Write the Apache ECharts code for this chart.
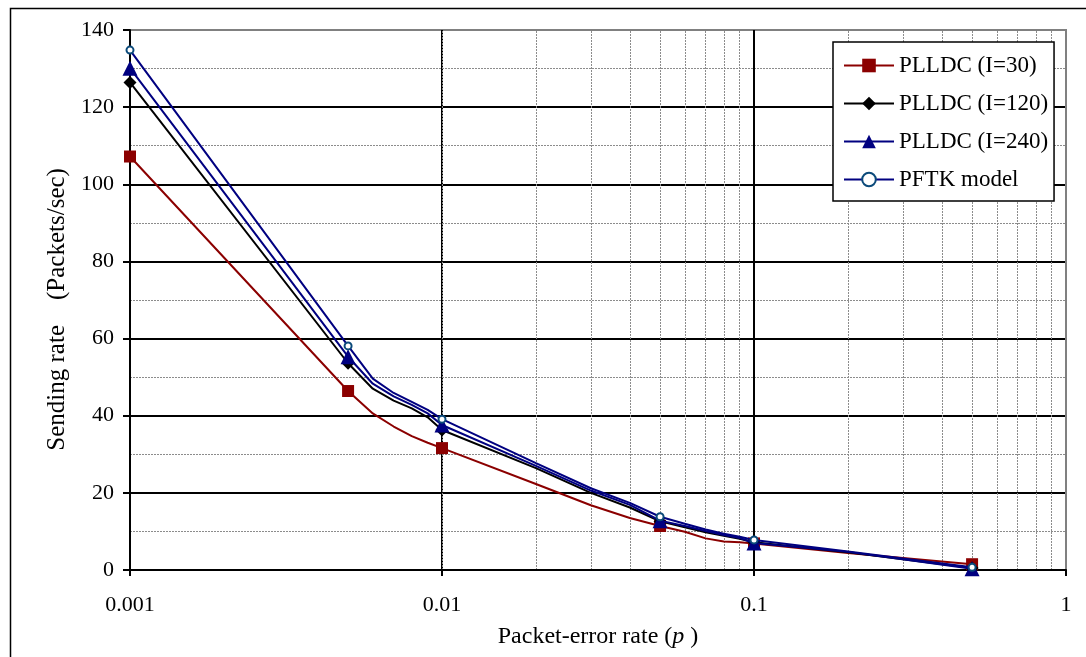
<!DOCTYPE html>
<html>
<head>
<meta charset="utf-8">
<script src="https://cdn.jsdelivr.net/npm/echarts@6/dist/echarts.min.js"></script>
<style>
html,body{margin:0;padding:0;background:#fff;}
#chart{width:1086px;height:657px;}
</style>
</head>
<body>
<div id="chart"></div>
<script>
// Packet-error rate sample points
const pValues = [0.001, 0.005, 0.006, 0.007, 0.008, 0.009, 0.01, 0.02, 0.03, 0.04, 0.05, 0.06, 0.07, 0.08, 0.09, 0.1, 0.2, 0.5];
// points that carry a visible marker
const markerP = [0.001, 0.005, 0.01, 0.05, 0.1, 0.5];

const seriesNames = ['PLLDC (I=30)', 'PLLDC (I=120)', 'PLLDC (I=240)', 'PFTK model'];
const rateI30  = [107.2, 46.4, 40.6, 37.2, 34.7, 33.0, 31.6, 22.3, 16.8, 13.5, 11.4, 9.9, 8.2, 7.4, 7.2, 6.9, 4.4, 1.5];
const rateI120 = [126.4, 53.6, 47.0, 43.9, 41.9, 39.6, 36.3, 26.4, 20.0, 16.2, 12.6, 11.1, 9.8, 8.9, 8.1, 7.2, 4.6, 0.5];
const rateI240 = [130.1, 55.3, 48.3, 45.0, 42.8, 40.6, 37.6, 27.0, 20.6, 16.9, 12.8, 11.4, 10.1, 9.1, 8.3, 7.0, 4.7, 0.3];
const ratePFTK = [134.8, 58.1, 49.6, 45.9, 43.6, 41.5, 39.1, 27.7, 21.2, 17.4, 13.8, 12.0, 10.5, 9.4, 8.6, 7.8, 4.8, 0.7];

const yTicks = [0, 20, 40, 60, 80, 100, 120, 140];
const xTickLabels = ['0.001', '0.01', '0.1', '1'];
const minorXGrid = [0.002,0.003,0.004,0.005,0.006,0.007,0.008,0.009,
                    0.02,0.03,0.04,0.05,0.06,0.07,0.08,0.09,
                    0.2,0.3,0.4,0.5,0.6,0.7,0.8,0.9];

const FONT = '"Liberation Serif", "Times New Roman", serif';

function pairs(ys){ return pValues.map((p,i)=>[p, ys[i]]); }
function sizeFn(s){
  return function(val){ return markerP.some(m => Math.abs(m - val[0]) < 1e-9) ? s : 0; };
}

const chart = echarts.init(document.getElementById('chart'), null, {renderer:'canvas'});

const option = {
  backgroundColor: '#fff',
  animation: false,
  textStyle: { fontFamily: FONT },
  graphic: [{
    type: 'rect', left: 8, top: 6, shape: { width: 1090, height: 660 },
    style: { fill: 'none', stroke: '#000', lineWidth: 1.5 }, silent: true, z: -10
  }],
  grid: {
    left: 130, right: 20, top: 30, bottom: 87,
    show: true, borderColor: '#808080', borderWidth: 2, backgroundColor: 'transparent'
  },
  legend: {
    data: seriesNames,
    orient: 'vertical',
    left: 833, top: 42, z: 20,
    padding: [12, 6, 10, 10],
    itemWidth: 50, itemHeight: 17, itemGap: 15,
    backgroundColor: '#fff',
    borderColor: '#000', borderWidth: 1.5,
    textStyle: { fontFamily: FONT, fontSize: 23, color: '#000' }
  },
  xAxis: {
    type: 'log', logBase: 10, min: 0.001, max: 1,
    name: 'Packet-error rate ({i|p} )',
    nameLocation: 'middle', nameGap: 55,
    nameTextStyle: {
      fontFamily: FONT, fontSize: 24, color: '#000',
      rich: { i: { fontFamily: FONT, fontSize: 24, fontStyle: 'italic', color: '#000' } }
    },
    axisLine: { show: true, onZero: false, lineStyle: { color: '#000', width: 2 } },
    axisTick: { show: true, length: 6, lineStyle: { color: '#000', width: 2 } },
    axisLabel: {
      fontFamily: FONT, fontSize: 22, color: '#000', margin: 24,
      formatter: function(v){
        const s = String(Number(v.toPrecision(6)));
        return xTickLabels.indexOf(s) >= 0 ? s : '';
      }
    },
    splitLine: { show: true, lineStyle: { color: ['#000','#000','#000','#808080'], width: 2 } },
    minorTick: { show: false },
    minorSplitLine: { show: false }
  },
  yAxis: {
    type: 'value', min: 0, max: 140, interval: 20,
    name: 'Sending rate    (Packets/sec)   ',
    nameLocation: 'middle', nameGap: 50,
    nameTextStyle: { fontFamily: FONT, fontSize: 25, color: '#000' },
    axisLine: { show: true, onZero: false, lineStyle: { color: '#000', width: 2 } },
    axisTick: { show: true, length: 7, lineStyle: { color: '#000', width: 2 } },
    axisLabel: {
      fontFamily: FONT, fontSize: 22, color: '#000', margin: 16,
      formatter: function(v){ return yTicks.indexOf(v) >= 0 ? String(v) : ''; }
    },
    splitLine: { show: true, lineStyle: { color: ['#000','#000','#000','#000','#000','#000','#000','#808080'], width: 2 } },
    minorTick: { show: false, splitNumber: 2 },
    minorSplitLine: { show: true, lineStyle: { color: '#8c8c8c', width: 1, type: [2, 1] } }
  },
  series: [
    {
      name: '_minorgrid', type: 'line', data: [], silent: true, z: 0,
      markLine: {
        silent: true, symbol: ['none','none'], label: { show: false },
        lineStyle: { color: '#8c8c8c', width: 1, type: [2, 1] },
        animation: false, z: 0,
        data: minorXGrid.map(v => ({ xAxis: v }))
      }
    },
    {
      name: seriesNames[0], type: 'line', data: pairs(rateI30), z: 3,
      symbol: 'rect', symbolSize: sizeFn(12), showAllSymbol: true,
      lineStyle: { color: '#8B0000', width: 2 },
      itemStyle: { color: '#8B0000' }
    },
    {
      name: seriesNames[1], type: 'line', data: pairs(rateI120), z: 4,
      symbol: 'diamond', symbolSize: sizeFn(13), showAllSymbol: true,
      lineStyle: { color: '#000', width: 2 },
      itemStyle: { color: '#000' }
    },
    {
      name: seriesNames[2], type: 'line', data: pairs(rateI240), z: 5,
      symbol: 'triangle', symbolSize: sizeFn(15), showAllSymbol: true,
      lineStyle: { color: '#000080', width: 2 },
      itemStyle: { color: '#000080' }
    },
    {
      name: seriesNames[3], type: 'line', data: pairs(ratePFTK), z: 6,
      symbol: 'circle', symbolSize: sizeFn(7), showAllSymbol: true,
      lineStyle: { color: '#000080', width: 2 },
      itemStyle: { color: '#fff', borderColor: '#0B4A7A', borderWidth: 2 }
    }
  ]
};
chart.setOption(option);
</script>
</body>
</html>
